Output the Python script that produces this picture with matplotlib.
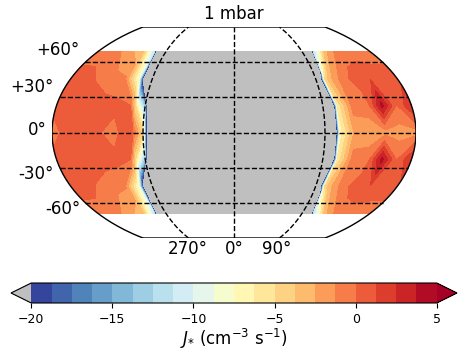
import numpy as np
import matplotlib
matplotlib.use("Agg")
import matplotlib.pyplot as plt
from matplotlib.path import Path
from matplotlib.patches import PathPatch

# grid of the J* map
lons = [-180, -165, -150, -135, -120, -105, -100, -90, -85, -60, 90, 95, 100, 105, 120, 135, 150, 165, 180]
lats = [-69, -46, -23, 0, 23, 46, 69]
lat_m69 = [-0.5, -0.5, -1.2, -2.3, -3.5, -12, -60, -200, -200, -200, -200, -200, -60, -12, -3, -0.8, -0.6, -0.6, -0.6]
lat_m46 = [0.5, 0.4, -0.1, -0.8, -1.1, -8, -22, -200, -200, -200, -200, -28, -5, -3, -0.5, 0.6, 1.1, 0.7, 0.7]
lat_m23 = [0.6, 0.6, 0.6, 0.6, 0.4, 0.0, -5, -14, -40, -200, -200, -200, -30, -6, -0.8, -0.8, 4.2, -0.1, 2.6]
lat_0 = [-0.6, 0.6, 0.6, 0.2, -0.6, 1.0, 0.1, -5, -30, -200, -200, -200, -30, -7, -2, -1.8, -1.8, -1.8, -1.8]
lat_p23 = [0.6, 0.6, 0.6, 0.6, 0.4, 0.0, -5, -14, -40, -200, -200, -200, -30, -6, -0.8, -0.8, 4.2, -0.1, 2.6]
lat_p46 = [0.5, 0.4, -0.1, -0.8, -1.1, -8, -22, -200, -200, -200, -200, -28, -5, -3, -0.5, 0.6, 1.1, 0.7, 0.7]
lat_p69 = [-0.5, -0.5, -1.2, -2.3, -3.5, -12, -60, -200, -200, -200, -200, -200, -60, -12, -3, -0.8, -0.6, -0.6, -0.6]

parallels = [-60, -30, 0, 30, 60]
parallel_labels = ["-60°", "-30°", "0°", "+30°", "+60°"]
meridians = [-90, 0, 90]
meridian_labels = ["270°", "0°", "90°"]
cbar_ticks = [-20, -15, -10, -5, 0, 5]


def kav7(lon, lat):
    # Kavrayskiy VII, same one basemap calls kav7
    lam = np.radians(lon)
    phi = np.radians(lat)
    return 1.5 * lam / np.pi * np.sqrt(np.pi ** 2 / 3 - phi ** 2), phi


fig = plt.figure(figsize=(4.68, 3.55), dpi=100)
ax = fig.add_axes([52 / 468, 117 / 355, 364 / 468, 211 / 355])

# pad the grid past +-180 so the curved edge comes from the clip, not from the coarse grid
data = np.array([lat_m69, lat_m46, lat_m23, lat_0, lat_p23, lat_p46, lat_p69])
data = np.hstack([data[:, :1], data, data[:, -1:]])
lon2d, lat2d = np.meshgrid([-210] + lons + [210], lats)
x, y = kav7(lon2d, lat2d)

cmap = plt.get_cmap("RdYlBu_r").copy()
cmap.set_under("#bfbfbf")
levels = np.linspace(-20, 5, 21)
cs = ax.contourf(x, y, data, levels=levels, cmap=cmap, extend="both")

# map outline
edge = np.linspace(-90, 90, 181)
ox = np.concatenate([kav7(-180, edge)[0], kav7(180, edge[::-1])[0]])
oy = np.concatenate([kav7(-180, edge)[1], kav7(180, edge[::-1])[1]])
outline = np.column_stack([ox, oy])
outline = np.vstack([outline, outline[:1]])
patch = PathPatch(Path(outline), fc="none", ec="black", lw=1.0, zorder=3)
ax.add_patch(patch)
cs.set_clip_path(patch)

for lat in parallels:
    lo = np.linspace(-180, 180, 50)
    px, py = kav7(lo, lat * np.ones_like(lo))
    ax.plot(px, py, color="black", ls="--", lw=1.0, zorder=4)
for lon in meridians:
    px, py = kav7(lon * np.ones_like(edge), edge)
    ax.plot(px, py, color="black", ls="--", lw=1.0, zorder=4)

ax.set_xlim(kav7(-180, 0)[0], kav7(180, 0)[0])
ax.set_ylim(-np.pi / 2, np.pi / 2)
ax.axis("off")

# labels sit outside the map, placed by pixel
for lab, px, py in zip(parallel_labels, [80, 54, 47, 54, 80], [209, 174, 130, 87, 50]):
    fig.text(px / 468, 1 - py / 355, lab, ha="right", va="center", fontsize=12)
for lab, px in zip(meridian_labels, [188, 234, 277]):
    fig.text(px / 468, 1 - 249 / 355, lab, ha="center", va="center", fontsize=12)
fig.text(234 / 468, 1 - 14 / 355, "1 mbar", ha="center", va="center", fontsize=12)

cax = fig.add_axes([11 / 468, 52 / 355, 446 / 468, 20 / 355])
cb = fig.colorbar(cs, cax=cax, orientation="horizontal", ticks=cbar_ticks)
cb.ax.tick_params(labelsize=9)
cb.set_label(r"$J_{*}$ (cm$^{-3}$ s$^{-1}$)", fontsize=12, labelpad=1)

plt.savefig("out.png", dpi=100)
plt.close()
